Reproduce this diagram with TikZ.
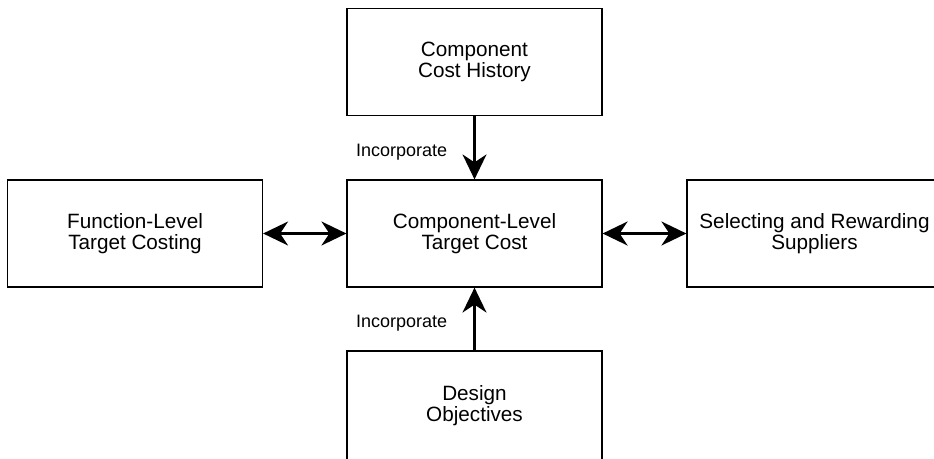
\documentclass[tikz,border=0pt]{standalone}
\usepackage{fontspec}
\setmainfont{Liberation Sans}
\usetikzlibrary{arrows.meta}
\begin{document}
\begin{tikzpicture}[x=1pt,y=-1pt,
  box/.style={draw=black, line width=1.2pt, rectangle, minimum width=255pt,
    minimum height=107pt, align=center, inner sep=0pt,
    font=\fontsize{20.7}{21.5}\selectfont},
  lbl/.style={anchor=base west, inner sep=0pt, font=\fontsize{18}{20}\selectfont},
  tip/.tip={Stealth[length=25pt,width=24pt,inset=8pt]},
  link/.style={line width=2.2pt, -tip},
  dlink/.style={line width=2.2pt, tip-tip}]
  \clip (0,0) rectangle (934,458);
  \fill[white] (0,0) rectangle (934,458);

  % boxes
  \node[box] (hist) at (474.5,62) {Component\\Cost History};
  \node[box] (target) at (474.5,233.5) {Component-Level\\Target Cost};
  \node[box] (func) at (135,233.5) {Function-Level\\Target Costing};
  \node[box] (supp) at (814.5,233.5) {Selecting and Rewarding\\Suppliers};
  \node[box, minimum height=109pt] (design) at (474.5,405.5) {Design\\Objectives};

  % connectors
  \draw[link] (hist) -- (target);
  \draw[link] (design) -- (target);
  \draw[dlink] (func) -- (target);
  \draw[dlink] (target) -- (supp);

  % labels
  \node[lbl] (inc1) at (356,156) {Incorporate};
  \node[lbl] (inc2) at (356,327) {Incorporate};
\end{tikzpicture}
\end{document}
